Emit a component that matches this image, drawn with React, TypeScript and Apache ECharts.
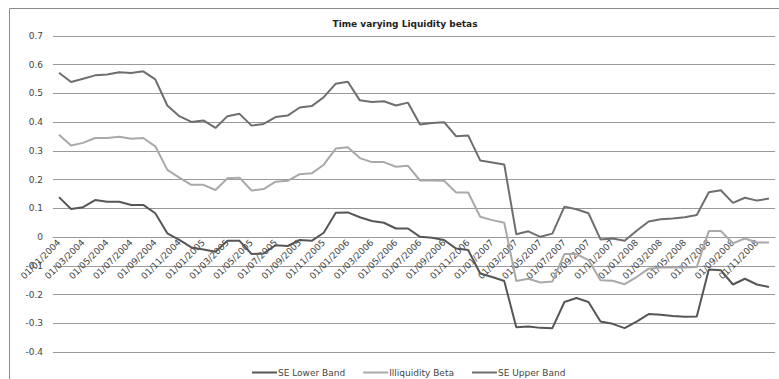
import React, { useEffect, useRef } from "react";
import * as echarts from "echarts";

// Monthly observations, Jan 2004 – Dec 2008
const years = [2004, 2005, 2006, 2007, 2008];
const months = ["01", "02", "03", "04", "05", "06", "07", "08", "09", "10", "11", "12"];
const categories: string[] = years.flatMap((y) => months.map((m) => `01/${m}/${y}`));

const seLowerBand = [
  0.139, 0.098, 0.104, 0.129, 0.123, 0.123, 0.112, 0.112, 0.083, 0.013,
  -0.01, -0.036, -0.043, -0.051, -0.013, -0.013, -0.059, -0.057, -0.028, -0.031,
  -0.01, -0.013, 0.015, 0.085, 0.086, 0.069, 0.056, 0.05, 0.03, 0.03,
  0.001, -0.002, -0.01, -0.04, -0.045, -0.127, -0.139, -0.153, -0.314, -0.311,
  -0.316, -0.317, -0.226, -0.212, -0.226, -0.294, -0.302, -0.317, -0.294, -0.268,
  -0.27, -0.275, -0.277, -0.276, -0.113, -0.115, -0.165, -0.145, -0.165, -0.174,
];

const illiquidityBeta = [
  0.356, 0.319, 0.328, 0.345, 0.345, 0.349, 0.342, 0.345, 0.316, 0.234,
  0.207, 0.182, 0.182, 0.164, 0.205, 0.207, 0.162, 0.167, 0.193, 0.196,
  0.219, 0.222, 0.252, 0.308, 0.313, 0.275, 0.261, 0.261, 0.245, 0.248,
  0.197, 0.197, 0.196, 0.155, 0.155, 0.071, 0.059, 0.05, -0.153, -0.145,
  -0.158, -0.155, -0.059, -0.059, -0.08, -0.15, -0.152, -0.164, -0.139, -0.11,
  -0.106, -0.106, -0.106, -0.104, 0.021, 0.021, -0.022, -0.005, -0.019, -0.019,
];

const seUpperBand = [
  0.572, 0.54, 0.551, 0.563, 0.566, 0.574, 0.571, 0.577, 0.549, 0.458,
  0.421, 0.401, 0.406, 0.38, 0.421, 0.429, 0.388, 0.394, 0.418, 0.423,
  0.451, 0.456, 0.487, 0.534, 0.541, 0.476, 0.47, 0.473, 0.458, 0.468,
  0.392, 0.397, 0.4, 0.351, 0.354, 0.267, 0.26, 0.253, 0.01, 0.02,
  0.001, 0.012, 0.106, 0.097, 0.083, -0.008, -0.005, -0.013, 0.022, 0.054,
  0.062, 0.065, 0.069, 0.077, 0.156, 0.163, 0.119, 0.137, 0.127, 0.134,
];

const Y_MIN = -0.4;
const Y_MAX = 0.7;
const FONT = "DejaVu Sans";

// Plot area placement
const GRID_TOP = 36;
const GRID_BOTTOM = 27;
const HEIGHT = 379;

export default function App() {
  const ref = useRef<HTMLDivElement>(null);

  useEffect(() => {
    if (!ref.current) return;
    const chart = echarts.init(ref.current, undefined, { renderer: "svg" });

    // Lift the category axis from the plot's bottom edge up to the zero line
    const plotHeight = HEIGHT - GRID_TOP - GRID_BOTTOM;
    const zeroLift = (plotHeight * (0 - Y_MIN)) / (Y_MAX - Y_MIN);

    chart.setOption({
      animation: false,
      backgroundColor: "#ffffff",
      title: {
        text: "Time varying Liquidity betas",
        left: 400,
        textAlign: "center",
        top: 14,
        textStyle: { fontFamily: FONT, fontSize: 9, fontWeight: "bold", color: "#222" },
      },
      graphic: [
        {
          type: "rect",
          shape: { x: 9.5, y: 8.5, width: 790, height: 400 },
          style: { fill: "none", stroke: "#8c8c8c", lineWidth: 1 },
          silent: true,
        },
      ],
      legend: {
        left: 247,
        top: 363,
        icon: "rect",
        itemWidth: 25,
        itemHeight: 2,
        itemGap: 18,
        textStyle: { fontFamily: FONT, fontSize: 9, color: "#444", padding: [0, 0, 0, -4] },
        data: ["SE Lower Band", "Illiquidity Beta", "SE Upper Band"],
      },
      grid: { left: 53, right: 4, top: GRID_TOP, bottom: GRID_BOTTOM, containLabel: false },
      xAxis: {
        type: "category",
        data: categories,
        boundaryGap: true,
        position: "bottom",
        offset: -zeroLift,
        axisLine: { show: true, onZero: false, lineStyle: { color: "#9a9a9a" } },
        axisTick: { show: false },
        axisLabel: {
          interval: 1,
          rotate: 45,
          margin: 4,
          hideOverlap: false,
          fontFamily: FONT,
          fontSize: 9,
          color: "#444",
        },
        splitLine: { show: false },
      },
      yAxis: {
        type: "value",
        min: Y_MIN,
        max: Y_MAX,
        interval: 0.1,
        axisLine: { show: false, onZero: false },
        axisTick: { show: false },
        axisLabel: {
          fontFamily: FONT,
          fontSize: 9,
          color: "#444",
          margin: 10,
          formatter: (v: number) => {
            const r = Math.round(v * 10) / 10;
            return r === 0 ? "0" : r.toFixed(1);
          },
        },
        splitLine: { lineStyle: { color: "#9a9a9a", width: 1 } },
      },
      series: [
        {
          name: "SE Lower Band",
          type: "line",
          data: seLowerBand,
          symbol: "none",
          lineStyle: { color: "#565656", width: 2 },
          itemStyle: { color: "#565656" },
        },
        {
          name: "Illiquidity Beta",
          type: "line",
          data: illiquidityBeta,
          symbol: "none",
          lineStyle: { color: "#a9a9a9", width: 2 },
          itemStyle: { color: "#a9a9a9" },
        },
        {
          name: "SE Upper Band",
          type: "line",
          data: seUpperBand,
          symbol: "none",
          lineStyle: { color: "#6e6e6e", width: 2 },
          itemStyle: { color: "#6e6e6e" },
        },
      ],
    });
    return () => chart.dispose();
  }, []);

  return (
    <div
      ref={ref}
      style={{ position: "fixed", left: 0, top: 0, width: 779, height: 379 }}
    />
  );
}
